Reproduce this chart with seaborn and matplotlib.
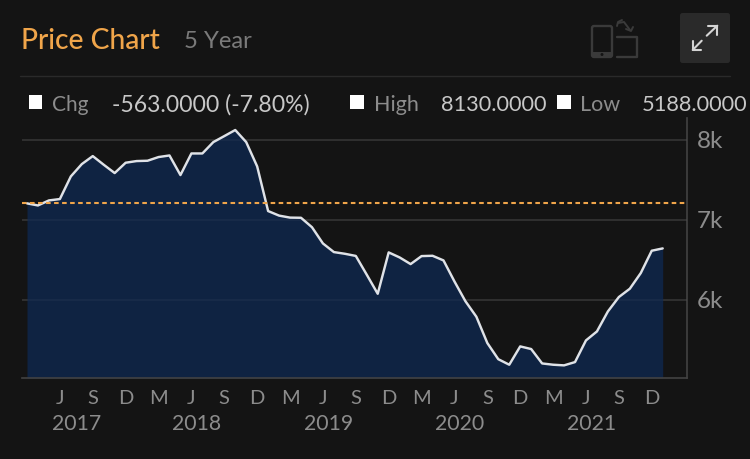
import matplotlib
matplotlib.use("Agg")
import matplotlib.pyplot as plt
from matplotlib.patches import Rectangle, FancyBboxPatch, Circle
from matplotlib.transforms import blended_transform_factory, ScaledTranslation
import pandas as pd
import seaborn as sns

prices = [7213, 7187, 7250, 7267, 7550, 7704, 7804, 7696, 7592, 7721,
          7742, 7746, 7792, 7812, 7567, 7837, 7837, 7979, 8054, 8130,
          7979, 7675, 7117, 7060, 7035, 7033, 6915, 6712, 6604, 6583,
          6556, 6321, 6083, 6600, 6537, 6454, 6554, 6558, 6500, 6237,
          5990, 5796, 5467, 5265, 5196, 5425, 5392, 5212, 5196, 5188,
          5229, 5500, 5612, 5862, 6042, 6146, 6342, 6621, 6650]
month_labels = ["J", "S", "D", "M"] * 4 + ["J", "S", "D"]
month_ticks = [3 + 3 * k for k in range(19)]
years = ["2017", "2018", "2019", "2020", "2021"]
year_positions = [4.56, 15.5, 27.55, 39.5, 51.5]
y_ticks = [6000, 7000, 8000]
y_labels = ["6k", "7k", "8k"]
reference_price = 7220

BG = "#141414"
FILL = "#0f2342"
GRID = "#2b2b2b"
AXIS = "#424242"
GREY = "#8c8c8c"
LIGHT = "#c8c8c8"
ORANGE = "#f0a54a"
ICON = "#3a3a3a"

sns.set_theme(style="dark", rc={"figure.facecolor": BG, "axes.facecolor": BG})
plt.rcParams["font.family"] = ["Lato", "DejaVu Sans"]

fig = plt.figure(figsize=(7.5, 4.6), dpi=100, facecolor=BG)

bgax = fig.add_axes([0, 0, 1, 1], zorder=0)
bgax.set_xlim(0, 750)
bgax.set_ylim(460, 0)
bgax.axis("off")

L, R, T, B = 22, 686.7, 118.7, 379
ax = fig.add_axes([L / 750, 1 - B / 460, (R - L) / 750, (B - T) / 460], zorder=1)
ax.set_facecolor("none")

df = pd.DataFrame({"month": range(len(prices)), "price": prices})
ymin, ymax = 5030, 8284
ax.fill_between(df["month"], df["price"], ymin, color=FILL, lw=0, zorder=2)
for v in y_ticks:
    ax.axhline(v, color=GRID, lw=1.3, zorder=1)
    ax.axhline(v, color="#ffffff", alpha=0.04, lw=1.3, zorder=3)
sns.lineplot(data=df, x="month", y="price", ax=ax, color="#dfe2e7", lw=1.75, zorder=4)
ax.axhline(reference_price, color=ORANGE, lw=1.5, dashes=(2.2, 1.65), zorder=5)

ax.set_xlim(-0.456, 60.19)
ax.set_ylim(ymin, ymax)
ax.set_xlabel("")
ax.set_ylabel("")
ax.yaxis.tick_right()
ax.set_yticks(y_ticks, y_labels, color=GREY, fontsize=17.5)
ax.set_xticks(month_ticks, month_labels, color=GREY, fontsize=14.5)
ax.tick_params(axis="both", length=0)
ax.tick_params(axis="x", pad=8)
ax.tick_params(axis="y", pad=7)
ax.grid(False)
shift_up = ScaledTranslation(0, 2 / 100, fig.dpi_scale_trans)
for lab in ax.get_yticklabels():
    lab.set_transform(lab.get_transform() + shift_up)
for s in ["left", "top"]:
    ax.spines[s].set_visible(False)
for s in ["right", "bottom"]:
    ax.spines[s].set_visible(True)
    ax.spines[s].set_color(AXIS)
    ax.spines[s].set_linewidth(1.2)
year_tf = blended_transform_factory(ax.transData, bgax.transData)
for x, y in zip(year_positions, years):
    ax.text(x, 424, y, transform=year_tf, color=GREY, fontsize=15.3, ha="center", va="center")

# header
bgax.text(21, 41, "Price Chart", color=ORANGE, fontsize=20.3, fontweight="medium", va="center")
bgax.text(184, 41, "5 Year", color="#7a7a7a", fontsize=17.2, va="center")
bgax.plot([20, 730], [77, 77], color="#2a2a2a", lw=1)

# device rotation icon
bgax.add_patch(FancyBboxPatch((592, 27), 20, 31, boxstyle="round,pad=0,rounding_size=2",
                              fc="none", ec=ICON, lw=1.7))
bgax.add_patch(Rectangle((592, 53), 20, 5, fc=ICON, ec="none"))
bgax.add_patch(Circle((602, 55.5), 1.5, fc=BG, ec="none"))
bgax.plot([617, 636.5, 636.5, 617], [37.5, 37.5, 57.5, 57.5], color=ICON, lw=1.7)
bgax.plot([618, 624, 630], [24, 23, 31], color=ICON, lw=1.4)
bgax.plot([617, 618, 622], [27, 23, 21], color=ICON, lw=1.4)
bgax.plot([626, 631, 633], [30, 32, 28], color=ICON, lw=1.4)

# expand button
bgax.add_patch(FancyBboxPatch((680, 14), 50, 50, boxstyle="round,pad=0,rounding_size=2.5",
                              fc="#2a2a2a", ec="none"))
EXPAND = "#d4d4d4"
bgax.plot([706.7, 717.3], [36.7, 26.7], color=EXPAND, lw=1.5)
bgax.plot([708, 717.3, 717.3], [26.7, 26.7, 35.7], color=EXPAND, lw=1.5)
bgax.plot([692.7, 701.7], [51, 41.7], color=EXPAND, lw=1.5)
bgax.plot([692.7, 692.7, 701], [42.3, 51, 51], color=EXPAND, lw=1.5)

# stats row
for x in (28.5, 350, 557):
    bgax.add_patch(Rectangle((x, 96), 13.5, 14, fc="white", ec="none"))
row = [(52, "Chg", GREY, 15), (112, "-563.0000 (-7.80%)", LIGHT, 16.6), (374, "High", GREY, 15.5),
       (441, "8130.0000", LIGHT, 15.7), (580, "Low", GREY, 15.5), (642, "5188.0000", LIGHT, 15.7)]
for x, s, c, fs in row:
    bgax.text(x, 105, s, color=c, fontsize=fs, va="center")

fig.savefig("out.png", dpi=100, facecolor=BG)
